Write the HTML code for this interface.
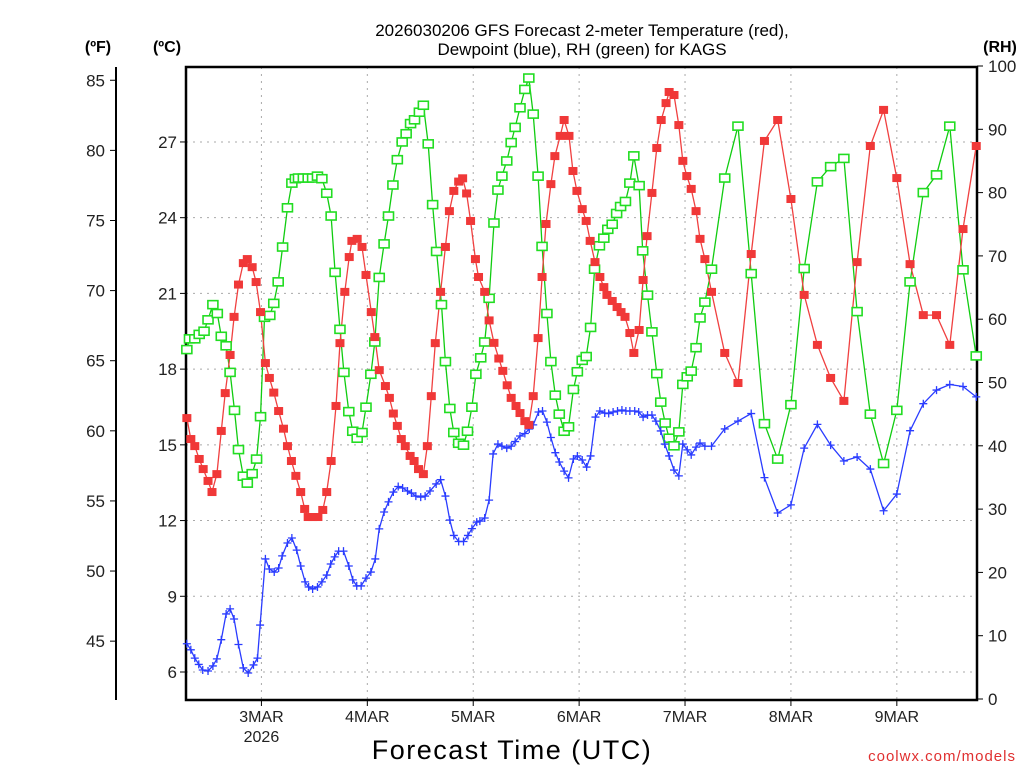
<!DOCTYPE html>
<html><head><meta charset="utf-8"><style>
html,body{margin:0;padding:0;background:#fff;}
svg text{font-family:"Liberation Sans",sans-serif;}
</style></head><body>
<svg id="chart" width="1024" height="768" viewBox="0 0 1024 768" xmlns="http://www.w3.org/2000/svg">
<text x="582" y="36" text-anchor="middle" font-size="17" fill="#000">2026030206 GFS Forecast 2-meter Temperature (red),</text>
<text x="582" y="55" text-anchor="middle" font-size="17" fill="#000">Dewpoint (blue), RH (green) for KAGS</text>
<text x="98" y="52" text-anchor="middle" font-size="16" font-weight="bold" fill="#000">(ºF)</text>
<text x="167" y="52" text-anchor="middle" font-size="16" font-weight="bold" fill="#000">(ºC)</text>
<text x="1000" y="52" text-anchor="middle" font-size="16" font-weight="bold" fill="#000">(RH)</text>
<text x="512" y="759" text-anchor="middle" font-size="27" fill="#000" letter-spacing="1.5">Forecast Time (UTC)</text>
<text x="1016" y="761" text-anchor="end" font-size="15" fill="#e03030" letter-spacing="1">coolwx.com/models</text>
<g id="grid"></g><g id="axes"></g><g id="series"></g>
</svg>
<script>
// ---- data (hours from 2026-03-02 06Z) ----
const tHours = [1.1,2.0,2.9,3.9,4.8,5.9,6.8,7.9,8.9,9.8,10.9,11.8,12.8,13.9,14.8,15.9,16.8,17.8,18.9,19.8,20.8,21.9,23.0,23.9,24.8,25.8,26.9,27.8,28.6,29.6,30.8,31.9,32.8,33.8,34.9,35.8,36.9,37.9,38.5,39.7,40.8,41.7,42.9,43.7,44.7,46.1,47.0,47.9,48.8,49.7,50.6,51.7,52.6,53.6,54.7,55.6,56.5,57.4,58.6,59.7,60.6,61.6,62.7,63.6,64.5,65.4,66.5,67.2,68.6,69.6,70.7,71.8,72.7,73.7,74.6,75.7,76.6,77.7,78.6,79.6,80.7,81.6,82.5,83.6,84.5,85.7,86.6,87.7,88.6,89.5,90.7,91.6,92.5,93.6,94.7,95.6,96.3,97.5,98.6,99.5,100.4,101.5,102.4,103.6,104.5,105.4,106.5,107.6,108.6,109.7,110.4,111.5,112.6,113.5,114.4,115.4,116.5,117.4,118.5,120,123,126,129,132,135,138,141,144,147,150,153,156,159,162,165,168,171,174,177,180];
const tempC = [16.06,15.23,14.95,14.44,14.04,13.57,13.13,13.84,15.55,17.05,18.56,20.07,21.35,22.20,22.36,22.04,21.45,20.26,18.24,17.65,17.07,16.34,15.64,14.95,14.36,13.77,13.13,12.46,12.14,12.14,12.14,12.42,13.13,14.36,16.54,19.03,21.06,22.44,23.08,23.16,22.84,21.73,20.26,19.27,17.96,17.33,16.86,16.24,15.75,15.23,14.95,14.56,14.36,14.04,13.84,14.95,16.93,19.03,21.06,22.84,24.26,25.06,25.43,25.56,24.96,23.87,22.36,21.65,21.06,19.93,19.04,18.42,17.93,17.36,16.86,16.54,16.26,15.94,15.79,16.93,19.23,21.65,23.75,25.33,26.44,27.24,27.87,27.24,25.85,25.06,24.34,23.87,23.08,22.24,21.65,21.25,20.94,20.70,20.46,20.26,20.07,19.43,18.64,19.55,21.53,23.27,24.98,26.76,27.87,28.54,28.98,28.86,27.67,26.25,25.65,25.14,24.26,23.16,22.36,21.06,18.64,17.45,22.56,27.04,27.87,24.74,20.94,18.96,17.65,16.74,22.24,26.84,28.27,25.57,22.16,20.14,20.14,18.96,23.55,26.84];
const dHours = [1.1,2.0,2.9,3.8,4.7,5.9,7.0,7.9,8.9,10.0,10.9,11.8,12.8,13.9,15.0,16.2,17.1,17.7,18.9,19.8,20.9,21.9,22.7,23.9,24.9,26.0,26.9,27.9,28.7,29.6,30.7,31.7,32.8,33.7,34.6,35.5,36.6,37.8,38.7,39.6,40.6,41.7,42.8,43.8,44.7,45.8,46.8,47.9,49.0,50.0,51.1,52.0,53.0,54.1,55.1,56.2,57.6,58.6,59.7,60.7,61.6,62.7,63.8,64.8,65.7,66.8,67.5,68.6,69.6,70.5,71.6,72.5,73.6,74.6,75.5,76.6,77.7,78.7,79.6,80.8,81.7,82.7,83.6,84.6,85.5,86.6,87.6,88.7,89.6,90.7,91.7,92.6,93.7,94.7,95.8,96.7,97.7,98.7,99.7,100.6,101.5,102.6,103.5,104.5,105.5,106.5,107.4,108.5,109.4,110.4,111.5,112.6,113.5,114.5,115.4,116.5,117.4,118.5,120,123,126,129,132,135,138,141,144,147,150,153,156,159,162,165,168,171,174,177,180];
const dewC = [7.12,6.88,6.55,6.30,6.08,6.04,6.24,6.52,7.28,8.30,8.50,8.10,7.09,6.16,5.96,6.28,6.55,7.86,10.48,10.08,9.96,10.12,10.60,11.11,11.31,10.83,10.20,9.57,9.37,9.29,9.37,9.57,9.84,10.28,10.56,10.79,10.79,10.20,9.65,9.41,9.41,9.72,9.96,10.48,11.67,12.34,12.74,13.13,13.35,13.29,13.17,13.09,12.97,12.93,12.97,13.17,13.45,13.62,12.97,12.02,11.41,11.17,11.17,11.41,11.68,11.94,11.98,12.10,12.81,14.64,15.03,14.95,14.87,14.95,15.13,15.35,15.45,15.63,15.79,16.30,16.34,15.90,15.29,14.69,14.32,13.96,13.69,14.44,14.56,14.40,14.12,14.56,16.10,16.34,16.26,16.24,16.30,16.34,16.38,16.34,16.34,16.34,16.30,16.10,16.18,16.18,15.94,15.55,15.03,14.56,14.00,13.77,15.03,14.80,14.60,14.91,15.07,14.95,14.95,15.63,15.94,16.24,13.70,12.30,12.62,14.87,15.81,14.99,14.36,14.52,14.04,12.39,13.05,15.56,16.63,17.17,17.39,17.31,16.90];
const rHours = [1.1,1.7,2.9,3.9,5.0,5.9,7.0,8.0,8.9,10.0,10.9,11.9,12.8,13.9,14.8,15.9,16.9,17.8,18.7,19.9,20.8,21.8,22.8,23.9,24.9,25.7,26.4,27.5,28.6,29.6,30.7,31.7,32.8,33.8,34.7,35.8,36.7,37.8,38.7,39.7,40.8,41.7,42.8,43.7,44.7,45.8,46.8,47.8,48.8,49.9,50.8,51.8,52.7,53.8,54.7,55.8,56.8,57.7,58.8,59.7,60.7,61.6,62.7,63.8,64.7,65.7,66.6,67.7,68.6,69.6,70.7,71.6,72.5,73.6,74.6,75.5,76.6,77.7,78.6,79.6,80.7,81.6,82.7,83.6,84.6,85.5,86.6,87.6,88.7,89.6,90.7,91.6,92.6,93.5,94.6,95.6,96.5,97.5,98.5,99.4,100.5,101.5,102.4,103.6,104.4,105.5,106.5,107.6,108.5,109.5,110.4,111.5,112.6,113.5,114.5,115.4,116.5,117.4,118.5,120,123,126,129,132,135,138,141,144,147,150,153,156,159,162,165,168,171,174,177,180];
const rhPct = [55.2,56.9,56.9,57.6,58.1,59.9,62.3,60.9,57.3,55.8,51.6,45.6,39.4,35.2,34.1,35.6,37.9,44.6,60.3,60.6,62.5,65.9,71.4,77.6,81.5,82.2,82.3,82.3,82.3,82.3,82.6,82.2,79.9,76.3,67.4,58.4,51.6,45.4,42.3,41.2,42.1,46.1,51.3,56.4,66.6,71.9,76.3,81.2,85.2,88.0,89.3,90.9,91.5,92.7,93.8,87.7,78.1,70.7,62.3,53.3,45.9,42.1,40.4,40.1,42.3,46.1,51.3,53.9,56.4,63.3,75.2,80.4,82.6,85.0,87.9,90.3,93.4,96.3,98.1,92.4,82.6,71.5,60.9,53.3,48.0,45.0,42.3,43.0,48.9,51.7,53.5,54.1,58.7,67.9,71.6,72.8,74.2,75.0,76.7,77.8,78.6,81.5,85.8,81.1,70.8,63.8,58.0,51.4,46.9,43.6,41.2,40.0,42.2,49.7,50.9,51.8,55.5,60.2,62.7,67.9,82.3,90.5,67.2,43.5,37.9,46.5,68.0,81.7,84.1,85.4,61.2,45.0,37.2,45.6,65.9,80.0,82.8,90.5,67.8,54.2];
const cTicks = [6,9,12,15,18,21,24,27];
const fTicks = [45,50,55,60,65,70,75,80,85];
const rhTicks = [0,10,20,30,40,50,60,70,80,90,100];
const dayLabels = ["3MAR","4MAR","5MAR","6MAR","7MAR","8MAR","9MAR"];
const dayHours = [18,42,66,90,114,138,162];

// ---- scales ----
const X0=182, PXH=4.4125, L=186, R=977, T=67, B=700;
const xs = h => X0 + h*PXH;
const yc = c => 672 - (c-6)*25.24;
const yf = f => yc((f-32)*5/9);
const yr = r => 699 - r*6.33;
const NS="http://www.w3.org/2000/svg";
function mk(tag, attrs, parent){const e=document.createElementNS(NS,tag);for(const k in attrs)e.setAttribute(k,attrs[k]);parent.appendChild(e);return e;}

const grid=document.getElementById('grid'), axes=document.getElementById('axes'), ser=document.getElementById('series');
cTicks.forEach(c=>{
  const g=mk('line',{x1:L,x2:R,y1:yc(c),y2:yc(c),stroke:'#aaa','stroke-width':1,'stroke-dasharray':'2,5'},grid);
  
  
  const tk=mk('line',{x1:L-6,x2:L,y1:yc(c),y2:yc(c),stroke:'#000'},axes);
  
  
  const t=mk('text',{x:L-9,y:yc(c)+6,'text-anchor':'end','font-size':17,fill:'#222'},axes);
  t.textContent=c;
  
  
});
dayHours.forEach((h,i)=>{
  const g=mk('line',{x1:xs(h),x2:xs(h),y1:T,y2:B,stroke:'#aaa','stroke-width':1,'stroke-dasharray':'2,5'},grid);
  
  
  const tk=mk('line',{x1:xs(h),x2:xs(h),y1:B,y2:B+6,stroke:'#000'},axes);
  
  
  const t=mk('text',{x:xs(h),y:B+22,'text-anchor':'middle','font-size':16,fill:'#222'},axes);
  t.textContent=dayLabels[i];
  
  
});
{const t=mk('text',{x:xs(18),y:B+42,'text-anchor':'middle','font-size':16,fill:'#222'},axes);t.textContent='2026';

}
fTicks.forEach(f=>{
  const tk=mk('line',{x1:110,x2:116,y1:yf(f),y2:yf(f),stroke:'#000'},axes);
  
  
  const t=mk('text',{x:105,y:yf(f)+6,'text-anchor':'end','font-size':17,fill:'#222'},axes);
  t.textContent=f;
  
  
});
rhTicks.forEach(r=>{
  const tk=mk('line',{x1:R,x2:R+6,y1:yr(r),y2:yr(r),stroke:'#000'},axes);
  
  
  const t=mk('text',{x:988,y:yr(r)+6,'font-size':17,fill:'#222'},axes);
  t.textContent=r;
  
  
});
{const a=mk('line',{x1:116,x2:116,y1:T,y2:B,stroke:'#000','stroke-width':2},axes);


const f=mk('rect',{x:L,y:T,width:R-L,height:B-T,fill:'none',stroke:'#000','stroke-width':2.5},axes);

}

function line(hs,vs,sc,col,name){
  const p=mk('polyline',{points:hs.map((h,i)=>xs(h).toFixed(1)+','+sc(vs[i]).toFixed(1)).join(' '),fill:'none',stroke:col,'stroke-width':1.3},ser);
  
  
}
line(rHours,rhPct,yr,'#10cc10','rh-line');
line(dHours,dewC,yc,'#2a3cff','dewpoint-line');
line(tHours,tempC,yc,'#f04040','temperature-line');
rHours.forEach((h,i)=>{
  const m=mk('rect',{x:xs(h)-5,y:yr(rhPct[i])-4,width:10,height:8,fill:'#fff',stroke:'#22dd22','stroke-width':1.6},ser);
  
  
});
dHours.forEach((h,i)=>{
  const x=xs(h),y=yc(dewC[i]);
  const m=mk('path',{d:`M${x-4},${y}H${x+4}M${x},${y-4}V${y+4}`,stroke:'#2a3cff','stroke-width':1.3,fill:'none'},ser);
  
  
});
tHours.forEach((h,i)=>{
  const m=mk('rect',{x:xs(h)-4.5,y:yc(tempC[i])-4,width:9,height:8,fill:'#f03838'},ser);
  
  
});
</script>
</body></html>
